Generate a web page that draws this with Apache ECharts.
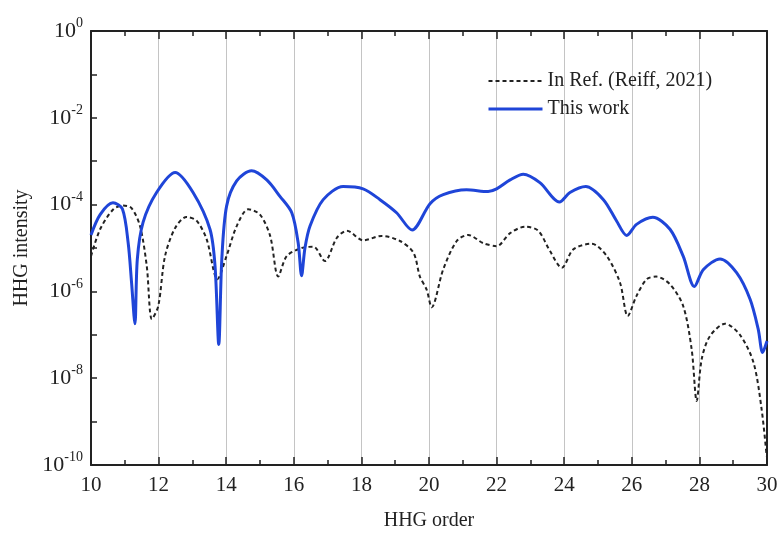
<!DOCTYPE html>
<html>
<head>
<meta charset="utf-8">
<title>HHG intensity</title>
<script src="https://cdn.jsdelivr.net/npm/echarts@6/dist/echarts.min.js"></script>
<style>
  html, body { margin: 0; padding: 0; background: #fff; }
  #chart { width: 781px; height: 536px; }
</style>
</head>
<body>
<div id="chart"></div>
<script>
// HHG order (x) and intensity (y)
const refOrder = [10.0, 10.27, 10.66, 10.95, 11.2, 11.45, 11.65, 11.8, 11.99, 12.19, 12.49, 12.83, 13.13, 13.42, 13.74,
  14.01, 14.31, 14.65, 15.0, 15.3, 15.54, 15.79, 16.23, 16.58, 16.92, 17.27, 17.57, 18.06, 18.6, 19.14, 19.54, 19.73,
  19.93, 20.08, 20.42, 20.82, 21.16, 21.6, 22.0, 22.4, 22.84, 23.23, 23.58, 23.93, 24.27, 24.81, 25.26, 25.65, 25.88,
  26.14, 26.44, 26.72, 27.13, 27.52, 27.77, 27.92, 28.07, 28.31, 28.76, 29.2, 29.6, 29.84, 29.99]
const refIntensity = [6.5e-6, 2.7e-5, 7.8e-5, 9.5e-5, 8.3e-5, 3.2e-5, 3.8e-6, 2.3e-7, 4.6e-7, 6.5e-6, 2.9e-5, 5.2e-5, 4.2e-5, 1.6e-5, 1.9e-6,
  6.5e-6, 3.2e-5, 7.8e-5, 5.9e-5, 1.9e-5, 2.2e-6, 6.5e-6, 1.0e-5, 1.07e-5, 5.0e-6, 1.7e-5, 2.5e-5, 1.5e-5, 1.9e-5, 1.45e-5, 7.8e-6, 2.2e-6,
  1.1e-6, 4.3e-7, 3.2e-6, 1.45e-5, 2.0e-5, 1.3e-5, 1.1e-5, 2.2e-5, 3.1e-5, 2.5e-5, 8.5e-6, 3.5e-6, 9.3e-6, 1.26e-5, 6.5e-6, 1.6e-6, 2.7e-7,
  7.9e-7, 1.9e-6, 2.2e-6, 1.45e-6, 4.6e-7, 4.7e-8, 3.0e-9, 2.8e-8, 9.3e-8, 1.8e-7, 1.0e-7, 2.3e-8, 1.95e-9, 1.6e-10]

const workOrder = [10.0, 10.27, 10.65, 10.93, 11.1, 11.2, 11.3, 11.37, 11.54, 11.94, 12.49, 13.02, 13.52, 13.67, 13.78,
  13.87, 14.01, 14.31, 14.75, 15.2, 15.59, 15.94, 16.13, 16.23, 16.33, 16.48, 16.87, 17.46, 18.05, 18.55, 19.04, 19.5,
  20.03, 20.42, 21.11, 21.75, 22.0, 22.4, 22.79, 23.28, 23.86, 24.17, 24.64, 25.16, 25.55, 25.85, 26.14, 26.62, 27.13,
  27.52, 27.85, 28.12, 28.61, 29.1, 29.5, 29.74, 29.87, 30.0]
const workIntensity = [2.0e-5, 5.9e-5, 1.1e-4, 7.9e-5, 1.3e-5, 1.6e-6, 1.8e-7, 5.5e-6, 3.9e-5, 1.9e-4, 5.5e-4, 1.9e-4, 2.7e-5, 3.8e-6, 6.0e-8,
  5.5e-6, 9.1e-5, 3.5e-4, 6.0e-4, 3.7e-4, 1.55e-4, 6.5e-5, 1.3e-5, 2.3e-6, 1.0e-5, 3.2e-5, 1.3e-4, 2.6e-4, 2.3e-4, 1.3e-4, 6.5e-5, 2.6e-5,
  1.05e-4, 1.7e-4, 2.2e-4, 2.0e-4, 2.3e-4, 3.7e-4, 5.0e-4, 3.2e-4, 1.15e-4, 1.9e-4, 2.6e-4, 1.3e-4, 4.2e-5, 1.95e-5, 3.5e-5, 5.1e-5, 2.7e-5,
  6.5e-6, 1.3e-6, 3.2e-6, 5.6e-6, 2.7e-6, 6.6e-7, 1.35e-7, 3.9e-8, 7.2e-8]

const seriesNames = ['In Ref. (Reiff, 2021)', 'This work']
const xMin = 10, xMax = 30, xStep = 2
const yMin = 1e-10, yMax = 1

const font = 'Liberation Serif'
const blue = '#1f45d8'
const chart = echarts.init(document.getElementById('chart'))

function zip(xs, ys) {
  return xs.map((x, i) => [x, ys[i]])
}

function yLabel(v) {
  const e = Math.round(Math.log10(v))
  if (e % 2 !== 0) return ''
  return '{b|10}{s|' + e + '}'
}

chart.setOption({
  animation: false,
  textStyle: { fontFamily: font },
  grid: { left: 91, right: 14, top: 31, bottom: 70 },
  legend: {
    orient: 'vertical',
    left: 482,
    top: 66,
    itemWidth: 54,
    itemHeight: 14,
    itemGap: 8,
    itemStyle: { opacity: 0 },
    textStyle: { fontFamily: font, fontSize: 20, color: '#222' },
    data: [
      { name: seriesNames[0], lineStyle: { color: '#222', width: 2, type: [4, 3] } },
      { name: seriesNames[1], lineStyle: { color: blue, width: 3 } },
    ],
  },
  xAxis: [
    {
      type: 'value',
      min: xMin,
      max: xMax,
      interval: xStep,
      name: 'HHG order',
      nameLocation: 'middle',
      nameGap: 46,
      nameTextStyle: { fontFamily: font, fontSize: 20, color: '#222' },
      axisLine: { lineStyle: { color: '#222', width: 2 } },
      axisTick: { inside: true, length: 8, lineStyle: { color: '#222', width: 1.5 } },
      minorTick: { show: true, splitNumber: 2, length: 5, lineStyle: { color: '#222', width: 1.5 } },
      axisLabel: { fontFamily: font, fontSize: 21, color: '#222', margin: 10 },
      splitLine: { show: true, lineStyle: { color: '#c4c4c4', width: 1 } },
    },
    {
      type: 'value',
      position: 'top',
      min: xMin,
      max: xMax,
      interval: xStep,
      axisLine: { show: true, onZero: false, lineStyle: { color: '#222', width: 2 } },
      axisTick: { inside: true, length: 8, lineStyle: { color: '#222', width: 1.5 } },
      minorTick: { show: true, splitNumber: 2, length: 5, lineStyle: { color: '#222', width: 1.5 } },
      axisLabel: { show: false },
      splitLine: { show: false },
    },
  ],
  yAxis: [
    {
      type: 'log',
      min: yMin,
      max: yMax,
      interval: 1,
      name: 'HHG intensity',
      nameLocation: 'middle',
      nameGap: 53,
      nameTextStyle: { fontFamily: font, fontSize: 20, color: '#222' },
      axisLine: { show: true, lineStyle: { color: '#222', width: 2 } },
      axisTick: { inside: true, length: 6, lineStyle: { color: '#222', width: 1.5 } },
      axisLabel: {
        margin: 8,
        color: '#222',
        formatter: yLabel,
        rich: {
          b: { fontFamily: font, fontSize: 22, color: '#222' },
          s: { fontFamily: font, fontSize: 14, color: '#222', padding: [0, 0, 15, 0] },
        },
      },
      splitLine: { show: false },
    },
    {
      type: 'log',
      position: 'right',
      min: yMin,
      max: yMax,
      axisLine: { show: true, lineStyle: { color: '#222', width: 2 } },
      axisTick: { show: false },
      axisLabel: { show: false },
      splitLine: { show: false },
    },
  ],
  series: [
    {
      name: seriesNames[0],
      type: 'line',
      data: zip(refOrder, refIntensity),
      smooth: 0.3,
      symbol: 'none',
      lineStyle: { color: '#222', width: 2, type: [4, 3] },
      itemStyle: { color: '#222' },
      z: 3,
    },
    {
      name: seriesNames[1],
      type: 'line',
      data: zip(workOrder, workIntensity),
      smooth: 0.3,
      symbol: 'none',
      lineStyle: { color: blue, width: 3 },
      itemStyle: { color: blue },
      z: 4,
    },
  ],
})
</script>
</body>
</html>
